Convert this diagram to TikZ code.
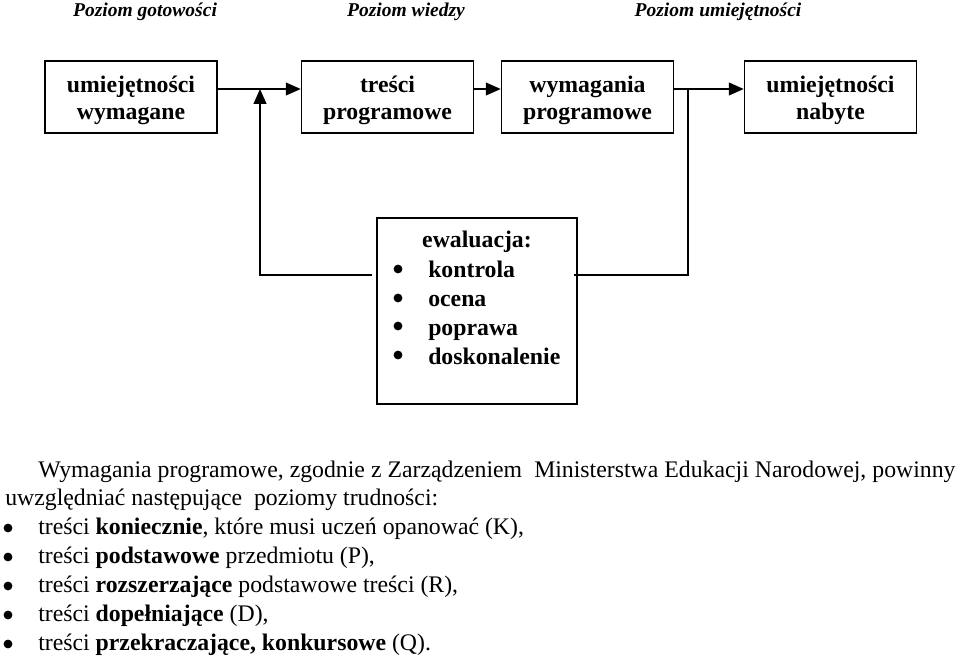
\documentclass[tikz,border=0pt]{standalone}
\usepackage{fontspec}
\setmainfont{Liberation Serif}
\usetikzlibrary{arrows.meta, positioning}

\begin{document}
\begin{tikzpicture}[x=0.025cm, y=0.025cm,
    level/.style={font=\fontsize{13.9}{16}\selectfont\bfseries\itshape,
                  inner sep=0pt, anchor=base},
    stage/.style={rectangle, draw, line width=1.1pt,
                  minimum width=4.3cm, minimum height=1.8cm},
    stagetxt/.style={font=\fontsize{16.9}{19.2}\selectfont\bfseries,
                     align=center, inner sep=0pt, yshift=-0.09cm},
    evalbox/.style={rectangle, draw, line width=1.1pt,
                    minimum width=5cm, minimum height=4.65cm},
    evaltxt/.style={font=\fontsize{16.9}{19}\selectfont\bfseries,
                    inner sep=0pt, anchor=base west},
    para/.style={font=\fontsize{16.9}{21}\selectfont,
                 inner sep=0pt, anchor=base west},
    dot/.style={circle, fill, inner sep=0pt, minimum size=0.22cm},
    flow/.style={line width=1.1pt},
    arr/.style={flow, -{Triangle[length=10.5pt, width=9pt]}},
]
\useasboundingbox (0,0) rectangle (960,-659);

%% -- levels ------------------------------------------------------------------
\node[level] (lvG) at (145,-16) {Poziom gotowości};
\node[level] (lvW) at (406,-16) {Poziom wiedzy};
\node[level] (lvU) at (718,-16) {Poziom umiejętności};

%% -- stages ------------------------------------------------------------------
\node[stage] (b1) at (131,-97)   {};
\node[stage] (b2) at (387.5,-97) {};
\node[stage] (b3) at (587.5,-97) {};
\node[stage] (b4) at (830.5,-97) {};
\node[stagetxt] (t1) at (b1) {umiejętności\\wymagane};
\node[stagetxt] (t2) at (b2) {treści\\programowe};
\node[stagetxt] (t3) at (b3) {wymagania\\programowe};
\node[stagetxt] (t4) at (b4) {umiejętności\\nabyte};

%% -- evaluation --------------------------------------------------------------
\node[evalbox] (eval) at (477,-311) {};
\node[evaltxt, anchor=base] (ev0) at (477,-247) {ewaluacja:};
\node[dot] (e1) at (398,-269) {};
\node[dot] (e2) at (398,-298) {};
\node[dot] (e3) at (398,-326) {};
\node[dot] (e4) at (398,-355) {};
\node[evaltxt] (ev1) at (428,-277) {kontrola};
\node[evaltxt] (ev2) at (428,-306) {ocena};
\node[evaltxt] (ev3) at (428,-335) {poprawa};
\node[evaltxt] (ev4) at (428,-364) {doskonalenie};

\coordinate (j1)  at (260,-89);
\coordinate (j2)  at (688,-89);
\coordinate (evL) at ([xshift=-0.1cm, yshift=0.9cm]eval.west);
\coordinate (evR) at ([xshift=-0.1cm, yshift=0.9cm]eval.east);

%% -- connectors --------------------------------------------------------------
\draw[arr] ([yshift=0.2cm]b1.east) -- ([yshift=0.2cm]b2.west);
\draw[arr] ([yshift=0.2cm]b2.east) -- ([yshift=0.2cm]b3.west);
\draw[arr] ([yshift=0.2cm]b3.east) -- ([yshift=0.2cm]b4.west);
\draw[arr] (evL) -| (j1);
\draw[flow] (evR) -| (j2);

%% -- description -------------------------------------------------------------
\node[para] (intro1) at (5,-477) {\makebox[23.75cm][s]{\hspace{0.825cm}Wymagania programowe, zgodnie z Zarządzeniem\ \ Ministerstwa Edukacji Narodowej, powinny}};
\node[para] (intro2) at (5,-505) {uwzględniać następujące\ \ poziomy trudności:};
\node[dot] (d1) at (8,-528) {};
\node[dot] (d2) at (8,-557) {};
\node[dot] (d3) at (8,-586) {};
\node[dot] (d4) at (8,-615) {};
\node[dot] (d5) at (8,-644) {};
\node[para] (k1) at (38,-534) {treści \textbf{koniecznie}, które musi uczeń opanować (K),};
\node[para] (k2) at (38,-563) {treści \textbf{podstawowe} przedmiotu (P),};
\node[para] (k3) at (38,-592) {treści \textbf{rozszerzające} podstawowe treści (R),};
\node[para] (k4) at (38,-621) {treści \textbf{dopełniające} (D),};
\node[para] (k5) at (38,-650) {treści \textbf{przekraczające, konkursowe} (Q).};

\end{tikzpicture}
\end{document}
